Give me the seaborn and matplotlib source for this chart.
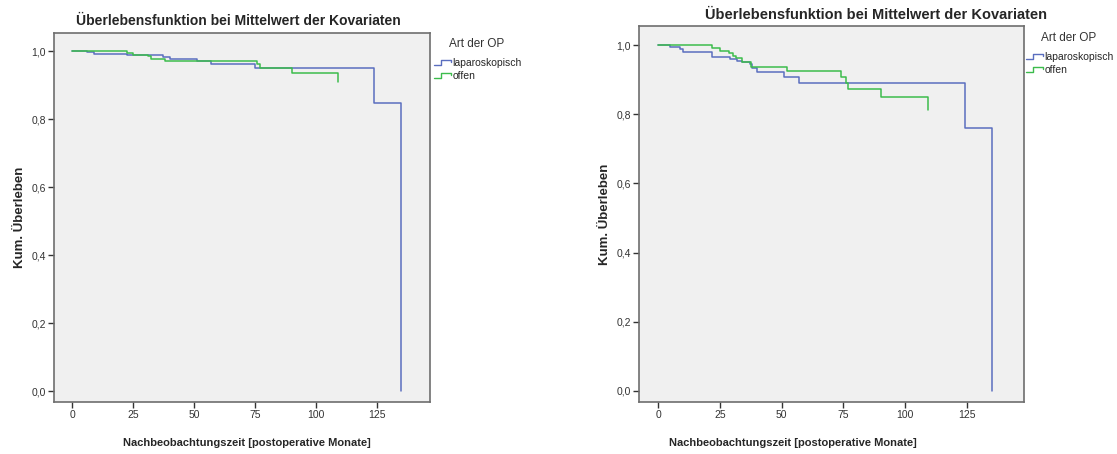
import numpy as np
import pandas as pd
import matplotlib
matplotlib.use('Agg')
import matplotlib.pyplot as plt
import seaborn as sns
from matplotlib.lines import Line2D
from matplotlib.legend_handler import HandlerBase

# Kaplan-Meier-artige Stufenkurven (Cox-Regression, Mittelwert der Kovariaten)
groups = ['laparoskopisch', 'offen']

# linkes Diagramm
left_lap_t = [0, 6.3, 9.1, 22.4, 37.2, 40.2, 51.1, 57.0, 75.0, 123.8, 134.7]
left_lap_s = [1.0, 0.997, 0.993, 0.989, 0.984, 0.978, 0.971, 0.962, 0.950, 0.849, 0.0]
left_off_t = [0, 22.4, 25.1, 31.3, 32.2, 38.1, 75.7, 77.0, 90.0, 108.9]
left_off_s = [1.0, 0.996, 0.990, 0.986, 0.979, 0.972, 0.962, 0.950, 0.935, 0.911]

# rechtes Diagramm
right_lap_t = [0, 4.7, 8.8, 9.9, 22.0, 29.2, 31.8, 33.8, 37.2, 38.1, 40.1, 50.9, 57.1, 124.3, 135.3]
right_lap_s = [1.0, 0.995, 0.988, 0.979, 0.966, 0.959, 0.955, 0.950, 0.946, 0.933, 0.921, 0.907, 0.890, 0.761, 0.0]
right_off_t = [0, 22.0, 25.0, 28.8, 30.4, 31.4, 33.8, 37.8, 52.3, 74.0, 76.3, 77.1, 90.2, 109.4]
right_off_s = [1.0, 0.990, 0.983, 0.976, 0.969, 0.962, 0.950, 0.937, 0.925, 0.908, 0.891, 0.872, 0.849, 0.812]

x_ticks = [0, 25, 50, 75, 100, 125]
y_ticks = [0.0, 0.2, 0.4, 0.6, 0.8, 1.0]
y_tick_labels = ['0,0', '0,2', '0,4', '0,6', '0,8', '1,0']

title = 'Überlebensfunktion bei Mittelwert der Kovariaten'
xlabel = 'Nachbeobachtungszeit [postoperative Monate]'
ylabel = 'Kum. Überleben'
legend_title = 'Art der OP'

colors = {'laparoskopisch': '#5a6ebf', 'offen': '#3cbc4c'}


def make_df(lap_t, lap_s, off_t, off_s):
    d1 = pd.DataFrame({'zeit': lap_t, 'ueberleben': lap_s, 'op': 'laparoskopisch'})
    d2 = pd.DataFrame({'zeit': off_t, 'ueberleben': off_s, 'op': 'offen'})
    return pd.concat([d1, d2], ignore_index=True)


class StepHandler(HandlerBase):
    # kleines Stufensymbol wie in SPSS
    def create_artists(self, legend, orig_handle, xdescent, ydescent,
                       width, height, fontsize, trans):
        x0, x1 = -xdescent, -xdescent + width
        xm = x0 + width * 0.4
        lo = -ydescent + height * 0.15
        hi = -ydescent + height * 0.85
        line = Line2D([x0, xm, xm, x1, x1], [lo, lo, hi, hi, lo * 0.4 + hi * 0.6],
                      color=orig_handle.get_color(), lw=1.0, transform=trans)
        return [line]


df_left = make_df(left_lap_t, left_lap_s, left_off_t, left_off_s)
df_right = make_df(right_lap_t, right_lap_s, right_off_t, right_off_s)

sns.set_theme(style='white')
plt.rcParams['font.family'] = ['Liberation Sans', 'DejaVu Sans']

fig = plt.figure(figsize=(11.17, 4.54), dpi=100)
W, H = 1117, 454
# Achsen-Rechtecke in Pixeln (links, oben, rechts, unten)
boxes = [(54, 33, 430, 402), (639, 26, 1024, 402)]
xlims = [(-7.4, 146.7), (-7.8, 148.3)]
ylims = [(-0.031, 1.054), (-0.032, 1.055)]
title_pos = [(238, 21), (876, 15)]
title_size = [10, 10.5]
xlabel_x = [247, 793]
legtitle_pos = [(449, 44), (1041, 38)]
legend_pos = [(434, 58), (1026, 52)]

for i, df in enumerate([df_left, df_right]):
    l, t, r, b = boxes[i]
    ax = fig.add_axes([l / W, 1 - b / H, (r - l) / W, (b - t) / H])
    ax.set_facecolor('#f0f0f0')
    sns.lineplot(data=df, x='zeit', y='ueberleben', hue='op', palette=colors,
                 estimator=None, drawstyle='steps-post', linewidth=1.1,
                 legend=False, ax=ax)
    ax.set_xlim(*xlims[i])
    ax.set_ylim(*ylims[i])
    ax.set_xticks(x_ticks)
    ax.set_xticklabels([str(v) for v in x_ticks])
    ax.set_yticks(y_ticks)
    ax.set_yticklabels(y_tick_labels)
    ax.tick_params(axis='both', which='both', direction='out', length=4, width=1,
                   color='#333333', labelsize=7.5, labelcolor='#333333', pad=2,
                   bottom=True, left=True)
    for sp in ax.spines.values():
        sp.set_color('#6e6e6e')
        sp.set_linewidth(1.2)
    tx, ty = title_pos[i]
    fig.text(tx / W, 1 - ty / H, title, fontsize=title_size[i], fontweight='bold',
             ha='center', va='center')
    ax.set_xlabel(xlabel, fontsize=8.0, fontweight='bold')
    ax.xaxis.set_label_coords((xlabel_x[i] - l) / (r - l), -(443 - b) / (b - t),
                              transform=ax.transAxes)
    ax.xaxis.label.set_va('center')
    ax.set_ylabel(ylabel, fontsize=9.5, fontweight='bold', labelpad=4)

    lx_t, ly_t = legtitle_pos[i]
    fig.text(lx_t / W, 1 - ly_t / H, legend_title, fontsize=8.5, color='#333333',
             ha='left', va='center')
    handles = [Line2D([], [], color=colors[g], lw=1.0) for g in groups]
    lx, ly = legend_pos[i]
    fig.legend(handles, groups, loc='upper left',
               bbox_to_anchor=(lx / W, 1 - ly / H),
               handler_map={Line2D: StepHandler()},
               frameon=False, fontsize=7.5,
               handlelength=1.6, handleheight=0.8, handletextpad=0.15,
               labelspacing=0.3, borderpad=0, borderaxespad=0)

fig.savefig('out.png', dpi=100)
